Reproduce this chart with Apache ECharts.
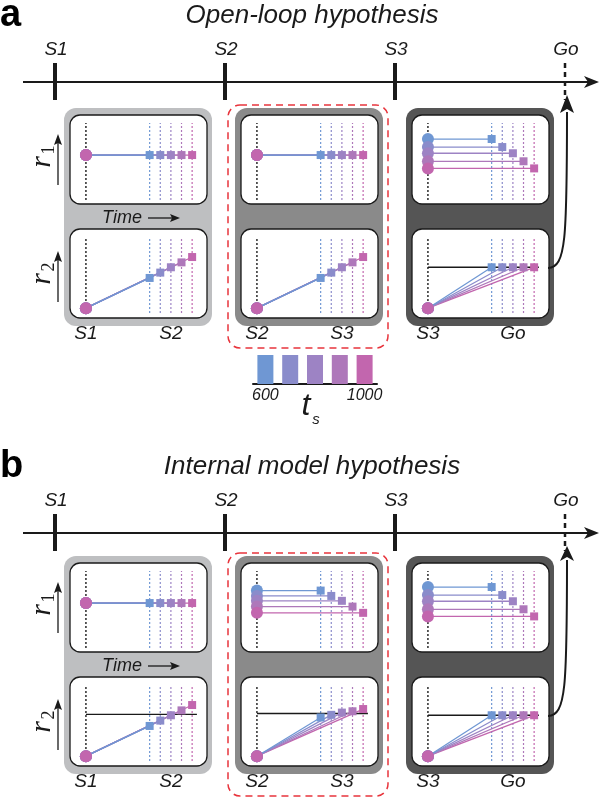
<!DOCTYPE html>
<html>
<head>
<meta charset="utf-8">
<script src="https://cdn.jsdelivr.net/npm/echarts@6/dist/echarts.min.js"></script>
<style>
  html, body { margin: 0; padding: 0; background: #fff; }
  #chart { width: 600px; height: 798px; }
</style>
</head>
<body>
<div id="chart"></div>
<script>
// sample intervals t_s (ms) and their colours
const ts = [600, 700, 800, 900, 1000];
const tsColors = ['#6f97d3', '#8a8ccb', '#9d83c4', '#ae78ba', '#c266ae'];

// r1 / r2 levels (0..1)
const r1Flat = [0.55, 0.55, 0.55, 0.55, 0.55];
const r1Spread = [0.73, 0.64, 0.57, 0.48, 0.40];
const r1Scaled = [0.69, 0.63, 0.575, 0.51, 0.44];
const r2Start = 0.11;
const r2Ramp = [0.45, 0.51, 0.57, 0.625, 0.685];
const r2Bound = [0.57, 0.57, 0.57, 0.57, 0.57];
const r2Adapt = [0.545, 0.575, 0.60, 0.615, 0.64];

const timelineLabels = ['S1', 'S2', 'S3', 'Go'];
const epochLabels = [['S1', 'S2'], ['S2', 'S3'], ['S3', 'Go']];
const barLabels = ['600', '1000'];

const panels = [
  { letter: 'a', title: 'Open-loop hypothesis', cells: [
    { r1: r1Flat, r2: r2Ramp, bound: null },
    { r1: r1Flat, r2: r2Ramp, bound: null },
    { r1: r1Spread, r2: r2Bound, bound: 0.57 }
  ] },
  { letter: 'b', title: 'Internal model hypothesis', cells: [
    { r1: r1Flat, r2: r2Ramp, bound: 0.58 },
    { r1: r1Scaled, r2: r2Adapt, bound: 0.59 },
    { r1: r1Spread, r2: r2Bound, bound: 0.57 }
  ] }
];

const SANS = '"Liberation Sans", "Helvetica", Arial, sans-serif';
const SERIF = '"Liberation Serif", "DejaVu Serif", serif';
const INK = '#1a1a1a';

const boxOff = [0, 448];
const lineOff = [0, 451];
const innerLeft = [70, 241, 412];
const boxFill = ['#bebfc1', '#8a8a8a', '#555555'];

const grids = [], xAxes = [], yAxes = [], series = [], graphics = [];

function txt(x, y, text, font, extra) {
  return Object.assign({ type: 'text', x: x, y: y, z: 5, style: {
    text: text, font: font, fill: INK, align: 'center', verticalAlign: 'middle'
  } }, extra || {});
}

panels.forEach(function (p, pi) {
  const bo = boxOff[pi], lo = lineOff[pi];

  // letter + title
  graphics.push({ type: 'text', x: 0, y: 16 + lo, z: 5, style: {
    text: p.letter, font: 'bold 38px ' + SANS, fill: '#000', align: 'left', verticalAlign: 'middle' } });
  graphics.push(txt(312, 16 + lo, p.title, 'italic 26px ' + SANS));

  // timeline
  const ty = 82 + lo;
  graphics.push({ type: 'line', z: 3, shape: { x1: 23, y1: ty, x2: 588, y2: ty }, style: { stroke: INK, lineWidth: 2 } });
  graphics.push({ type: 'polygon', z: 3, shape: { points: [[599, ty], [584, ty - 6], [588, ty], [584, ty + 6]] }, style: { fill: INK } });
  timelineLabels.forEach(function (lab, i) {
    const x = 55 + i * 170;
    if (lab === 'Go') {
      graphics.push({ type: 'line', z: 3, shape: { x1: x, y1: ty - 19, x2: x, y2: ty + 18 }, style: { stroke: INK, lineWidth: 2.5, lineDash: [5, 4] } });
    } else {
      graphics.push({ type: 'rect', z: 3, shape: { x: x - 2, y: ty - 19, width: 4, height: 37 }, style: { fill: INK } });
    }
    graphics.push(txt(x + 1, ty - 32, lab, 'italic 19px ' + SANS));
  });

  // r1 / r2 side labels with up arrows
  [[158, '1'], [275, '2']].forEach(function (r) {
    const cy = r[0] + bo;
    graphics.push({ type: 'group', x: 42, y: cy, rotation: Math.PI / 2, z: 5, children: [
      { type: 'text', x: -4, y: 0, style: { text: 'r', font: 'italic 30px ' + SERIF, fill: INK, align: 'center', verticalAlign: 'middle' } },
      { type: 'text', x: 8, y: 7, style: { text: r[1], font: '18px ' + SERIF, fill: INK, align: 'center', verticalAlign: 'middle' } }
    ] });
    graphics.push({ type: 'line', z: 3, shape: { x1: 58, y1: cy + 27, x2: 58, y2: cy - 16 }, style: { stroke: INK, lineWidth: 1.3 } });
    graphics.push({ type: 'polygon', z: 3, shape: { points: [[58, cy - 24], [54, cy - 13], [58, cy - 15], [62, cy - 13]] }, style: { fill: INK } });
  });

  // red dashed frame around the middle epoch
  graphics.push({ type: 'rect', z: 1, shape: { x: 228, y: 105 + bo, width: 160, height: 243, r: 12 },
    style: { fill: null, stroke: '#e8343c', lineWidth: 1.5, lineDash: [7, 5] } });

  // "Time ->" caption
  graphics.push(txt(122, 218 + bo, 'Time', 'italic 18px ' + SANS));
  graphics.push({ type: 'line', z: 3, shape: { x1: 148, y1: 218 + bo, x2: 172, y2: 218 + bo }, style: { stroke: INK, lineWidth: 1.3 } });
  graphics.push({ type: 'polygon', z: 3, shape: { points: [[180, 218 + bo], [170, 214 + bo], [172, 218 + bo], [170, 222 + bo]] }, style: { fill: INK } });

  // curved arrow to Go
  const ay = 268 + bo;
  graphics.push({ type: 'bezierCurve', z: 3, shape: { x1: 548, y1: ay, cpx1: 566, cpy1: ay, cpx2: 567, cpy2: ay - 30, x2: 567, y2: 112 + bo },
    style: { stroke: INK, lineWidth: 2, fill: null } });
  graphics.push({ type: 'polygon', z: 3, shape: { points: [[567, 98 + lo - 3], [560, 113 + bo], [567, 109 + bo], [574, 113 + bo]] }, style: { fill: INK } });

  p.cells.forEach(function (cell, ci) {
    const left = innerLeft[ci];
    // grey epoch box + white sub-panels
    graphics.push({ type: 'rect', z: 0, shape: { x: left - 6, y: 108 + bo, width: 148, height: 218, r: 12 }, style: { fill: boxFill[ci] } });
    [115, 229].forEach(function (top) {
      graphics.push({ type: 'rect', z: 1, shape: { x: left, y: top + bo, width: 137, height: 89, r: 10 },
        style: { fill: '#fff', stroke: INK, lineWidth: 1.3 } });
    });

    [0, 1].forEach(function (row) {
      const g = grids.length;
      const isBottom = row === 1;
      grids.push({ left: left, top: (row ? 229 : 115) + bo, width: 137, height: 89 });
      xAxes.push({
        gridIndex: g, type: 'value', min: -150, max: 1140, interval: 50,
        show: isBottom,
        axisLine: { show: false }, axisTick: { show: false }, splitLine: { show: false },
        axisLabel: {
          show: isBottom, margin: 6, color: INK, fontSize: 19, fontStyle: 'italic', fontFamily: SANS,
          showMinLabel: false, showMaxLabel: false,
          formatter: function (v) { return v === 0 ? epochLabels[ci][0] : (v === 800 ? epochLabels[ci][1] : ''); }
        }
      });
      yAxes.push({ gridIndex: g, type: 'value', min: 0, max: 1, show: false, splitLine: { show: false } });

      const lo2 = isBottom ? 0.056 : 0.045, hi2 = 0.91;
      const base = { xAxisIndex: g, yAxisIndex: g, silent: true, animation: false };
      // stimulus onset marker
      series.push(Object.assign({ type: 'line', symbol: 'none', data: [[0, lo2], [0, hi2]],
        lineStyle: { color: INK, width: 1.4, type: [2, 2] } }, base));
      // t_s markers
      ts.forEach(function (t, i) {
        series.push(Object.assign({ type: 'line', symbol: 'none', data: [[t, lo2], [t, hi2]],
          lineStyle: { color: tsColors[i], width: 1.2, type: [2, 2] } }, base));
      });
      if (isBottom && cell.bound !== null) {
        series.push(Object.assign({ type: 'line', symbol: 'none', data: [[0, cell.bound], [1045, cell.bound]],
          lineStyle: { color: INK, width: 1.3 } }, base));
      }
      const ends = isBottom ? cell.r2 : cell.r1;
      const starts = ts.map(function (t, i) { return isBottom ? r2Start : cell.r1[i]; });
      for (let i = ts.length - 1; i >= 0; i--) {
        series.push(Object.assign({ type: 'line', z: 3,
          data: [{ value: [0, starts[i]], symbol: 'none' }, { value: [ts[i], ends[i]], symbol: 'rect', symbolSize: 8 }],
          lineStyle: { color: tsColors[i], width: 1.3 }, itemStyle: { color: tsColors[i], opacity: 1 } }, base));
      }
      series.push(Object.assign({ type: 'scatter', z: 4, symbol: 'circle', symbolSize: 12,
        itemStyle: { opacity: 1, borderWidth: 0 },
        data: ts.map(function (t, i) { return { value: [0, starts[i]], itemStyle: { color: tsColors[i], opacity: 1 } }; }) }, base));
    });
  });
});

// colour key for t_s
const kg = grids.length;
grids.push({ left: 253, top: 355, width: 124, height: 29 });
xAxes.push({ gridIndex: kg, type: 'category', data: ts.map(String),
  axisLine: { lineStyle: { color: INK, width: 2 } }, axisTick: { show: false },
  axisLabel: { margin: 4, color: INK, fontSize: 16, fontStyle: 'italic', fontFamily: SANS, interval: 0,
    formatter: function (v) { return barLabels.indexOf(v) >= 0 ? v : ''; } } });
yAxes.push({ gridIndex: kg, type: 'value', min: 0, max: 1, show: false, splitLine: { show: false } });
series.push({ type: 'bar', xAxisIndex: kg, yAxisIndex: kg, silent: true, animation: false, barWidth: 16,
  data: ts.map(function (t, i) { return { value: 1, itemStyle: { color: tsColors[i] } }; }) });
graphics.push(txt(306, 406, 't', 'italic 32px ' + SANS));
graphics.push(txt(316, 420, 's', 'italic 15px ' + SANS));

const chart = echarts.init(document.getElementById('chart'));
chart.setOption({
  animation: false,
  grid: grids,
  xAxis: xAxes,
  yAxis: yAxes,
  series: series,
  graphic: graphics
});
</script>
</body>
</html>
